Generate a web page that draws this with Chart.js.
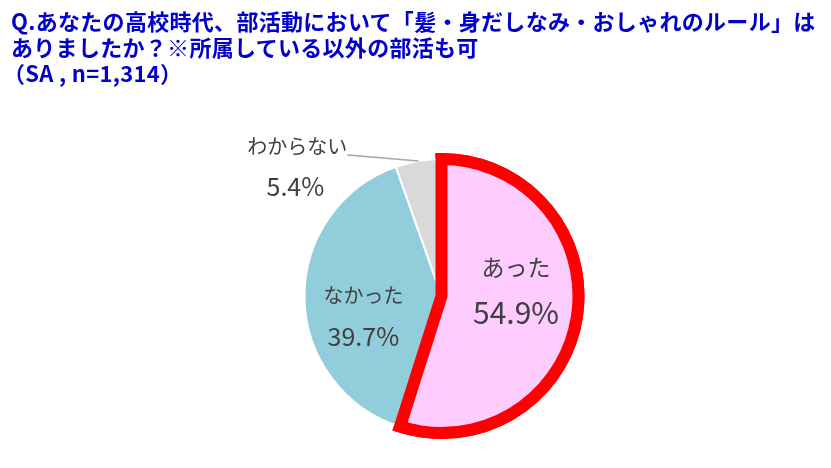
<!DOCTYPE html>
<html><head><meta charset="utf-8">
<script src="https://cdn.jsdelivr.net/npm/chart.js@4"></script>
<style>
html,body{margin:0;padding:0;background:#fff;width:831px;height:468px;overflow:hidden}
#wrap{position:relative;width:831px;height:468px}
#title{position:absolute;left:11px;top:7px;font-family:"Noto Sans CJK JP";font-weight:bold;font-size:22px;line-height:26px;color:#0000CC;white-space:nowrap;letter-spacing:0.3px}
#title div:last-child{margin-left:-8px}
canvas{position:absolute;left:0;top:0}
</style></head>
<body><div id="wrap"><canvas id="c" width="831" height="468"></canvas><div id="title"></div></div>
<script>
const titleLines = [
  'Q.あなたの高校時代、部活動において「髪・身だしなみ・おしゃれのルール」は',
  'ありましたか？※所属している以外の部活も可',
  '（SA , n=1,314）'
];
const categories = ['あった', 'なかった', 'わからない'];
const values = [54.9, 39.7, 5.4];
const valueLabels = ['54.9%', '39.7%', '5.4%'];

const fillColors = ['#FFCCFF', '#92CDDC', '#D9D9D9'];
const borderColors = ['#FF0000', '#FFFFFF', '#FFFFFF'];
const borderWidths = [12, 2, 2];

document.getElementById('title').innerHTML = titleLines.map(s => '<div>' + s + '</div>').join('');

const FONT = '"Noto Sans CJK JP", "Noto Sans", sans-serif';
const labelLayout = [
  {f: 0.55, nameDy: -40, valDy: 5, nameSize: 23, valSize: 30},
  {f: 0.57, nameDy: -2, valDy: 39, nameSize: 20, valSize: 25},
  {outside: true, lineDx: -71, lineDy: -6, nameDx: -50, nameDy: -9, valDx: -52, valDy: 32, nameSize: 20, valSize: 25}
];

const frontArc = {
  id: 'frontArc',
  afterDatasetsDraw(chart) {
    const el = chart.getDatasetMeta(0).data[0];
    const ctx = chart.ctx;
    ctx.save();
    el.draw(ctx, chart.chartArea);
    ctx.restore();
  }
};

const sliceLabels = {
  id: 'sliceLabels',
  afterDatasetsDraw(chart) {
    const ctx = chart.ctx;
    const meta = chart.getDatasetMeta(0);
    ctx.save();
    ctx.fillStyle = '#404040';
    ctx.textAlign = 'center';
    ctx.textBaseline = 'middle';
    meta.data.forEach((arc, i) => {
      const L = labelLayout[i];
      const p = arc.getProps(['x', 'y', 'startAngle', 'endAngle', 'outerRadius']);
      const a = (p.startAngle + p.endAngle) / 2;
      if (L.outside) {
        const ex = p.x + Math.cos(a) * p.outerRadius;
        const ey = p.y + Math.sin(a) * p.outerRadius;
        const lx = ex + L.lineDx, ly = ey + L.lineDy;
        ctx.strokeStyle = '#A6A6A6';
        ctx.lineWidth = 1.5;
        ctx.beginPath();
        ctx.moveTo(ex, ey);
        ctx.lineTo(lx, ly);
        ctx.stroke();
        ctx.font = L.nameSize + 'px ' + FONT;
        ctx.fillText(categories[i], lx + L.nameDx, ly + L.nameDy);
        ctx.font = L.valSize + 'px ' + FONT;
        ctx.fillText(valueLabels[i], lx + L.valDx, ly + L.valDy);
      } else {
        const d = p.outerRadius * L.f;
        const ax = p.x + Math.cos(a) * d;
        const ay = p.y + Math.sin(a) * d;
        ctx.font = L.nameSize + 'px ' + FONT;
        ctx.fillText(categories[i], ax, ay + L.nameDy);
        ctx.font = L.valSize + 'px ' + FONT;
        ctx.fillText(valueLabels[i], ax, ay + L.valDy);
      }
    });
    ctx.restore();
  }
};

new Chart(document.getElementById('c'), {
  type: 'pie',
  data: {
    labels: categories,
    datasets: [{
      data: values,
      backgroundColor: fillColors,
      borderColor: borderColors,
      borderWidth: borderWidths,
      borderJoinStyle: 'miter'
    }]
  },
  options: {
    responsive: false,
    animation: false,
    radius: 137,
    layout: {padding: {left: 162, right: 110, top: 140, bottom: 16}},
    plugins: {
      legend: {display: false},
      tooltip: {enabled: false},
      title: {display: false}
    }
  },
  plugins: [frontArc, sliceLabels]
});
</script>
</body></html>
